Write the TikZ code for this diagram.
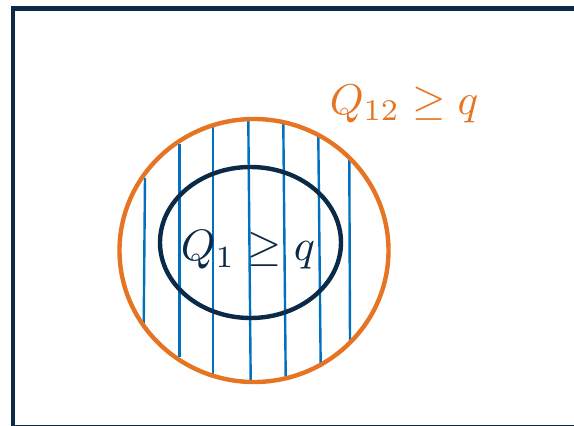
\documentclass[tikz,border=0pt]{standalone}
\definecolor{navy}{RGB}{10,42,72}
\definecolor{orng}{RGB}{230,117,35}
\definecolor{lblue}{RGB}{0,112,192}
\tikzset{
  hatch/.style={draw=lblue, line width=2.4pt},
  lbl/.style={inner sep=0pt, anchor=center}
}
\begin{document}
\begin{tikzpicture}[x=1pt,y=-1pt]
\useasboundingbox (0,0) rectangle (574,426);
\begin{scope}
\clip (0,0) rectangle (574,426);
\draw[navy, line width=4.5pt] (13,8.5) rectangle (620,427.5);
\end{scope}
% hatch lines
\draw[hatch] (145,178) -- (143.7,325);
\draw[hatch] (179.3,144) -- (179.3,357);
\draw[hatch] (212.7,127) -- (212.7,376);
\draw[hatch] (248.3,120) -- (250.7,381);
\draw[hatch] (283.3,123) -- (285.7,377);
\draw[hatch] (318.3,136) -- (320.7,367);
\draw[hatch] (349.3,157) -- (350,343);
% circles
\draw[orng, line width=4.4pt] (254,250.5) ellipse [x radius=134.5, y radius=131.5];
\draw[navy, line width=4.4pt] (250.5,242.5) ellipse [x radius=90.5, y radius=75.5];
% labels
\node[lbl, text=navy, scale=4.4] (q1) at (248,250) {$Q_1 \geq q$};
\node[lbl, text=orng, scale=4.3] (q12) at (404,104) {$Q_{12} \geq q$};
\end{tikzpicture}
\end{document}
